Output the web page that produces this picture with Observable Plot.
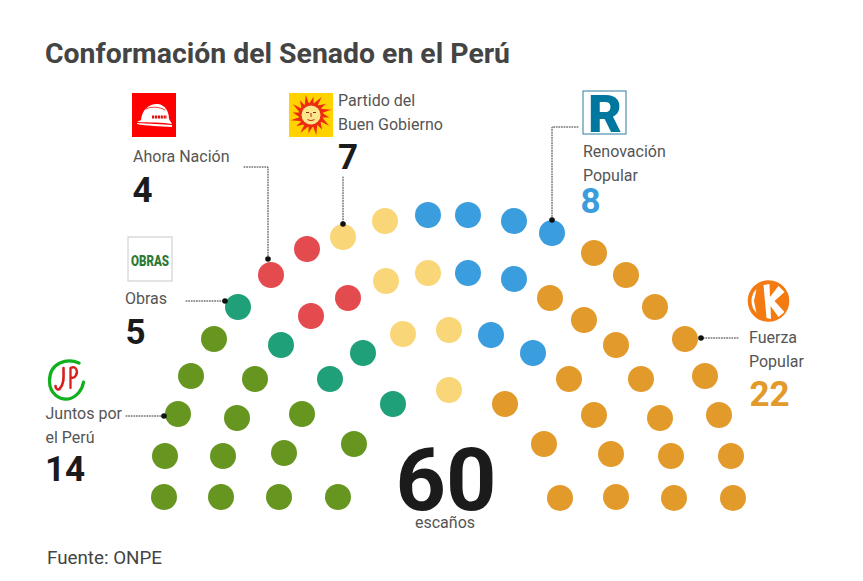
<!DOCTYPE html>
<html lang="es">
<head>
<meta charset="utf-8">
<script src="https://cdn.jsdelivr.net/npm/d3@7"></script>
<script src="https://cdn.jsdelivr.net/npm/@observablehq/plot@0.6"></script>
<style>
html,body{margin:0;padding:0;background:#fff;width:863px;overflow:hidden}
#title{height:80px;box-sizing:border-box;padding:38px 0 0 45px;font:700 28.4px/32px Roboto,sans-serif;color:#444;white-space:nowrap}
#chart svg{display:block}
#source{padding:2px 0 0 47px;font:400 18.8px/22px Roboto,sans-serif;color:#444}
</style>
</head>
<body>
<div id="title">Conformación del Senado en el Perú</div>
<div id="chart"></div>
<div id="source">Fuente: ONPE</div>
<script>
// ---- data ----
const parties = ["Juntos por el Perú", "Obras", "Ahora Nación", "Partido del Buen Gobierno", "Renovación Popular", "Fuerza Popular"];
const seatCounts = [14, 5, 4, 7, 8, 22];
const totalSeats = 60;
const seatUnit = "escaños";
const partyColors = ["#66961f", "#1fa078", "#e34b4e", "#f9d678", "#3a9ddd", "#e29a2b"];

// seat centres, one list per party
const juntosSeats = [[164,497],[221,497],[279,497],[338,497],[165,456],[223,456],[284,453],[354,444],[178,414],[237,418],[302,414],[191,376],[255,379],[214,339]];
const obrasSeats = [[238,307],[281,345],[363,353],[330,379],[393,404]];
const ahoraSeats = [[271,275],[307,249],[348,298],[311,316]];
const buenGobiernoSeats = [[343,237],[385,221],[386,281],[428,273],[403,334],[449,330],[449,390]];
const renovacionSeats = [[428,215],[468,215],[514,221],[552,233],[468,273],[514,279],[491,335],[533,353]];
const fuerzaSeats = [[594,253],[626,275],[655,307],[685,339],[705,376],[719,415],[731,456],[733,498],[550,298],[584,320],[616,345],[641,379],[660,418],[671,456],[674,498],[569,379],[594,415],[611,454],[616,497],[505,404],[544,444],[560,498]];

// ---- layout (annotations, not data) ----
const W = 863, TOP = 80, H = 465;
const seatLists = [juntosSeats, obrasSeats, ahoraSeats, buenGobiernoSeats, renovacionSeats, fuerzaSeats];
const seats = seatLists.flatMap((list, i) => list.map(([x, y]) => ({x, y, party: parties[i]})));

const labelLines = [
  {x:133,y:161.5,t:"Ahora Nación"},
  {x:338,y:105.5,t:"Partido del"},{x:338,y:129.5,t:"Buen Gobierno"},
  {x:583,y:156.5,t:"Renovación"},{x:583,y:180.5,t:"Popular"},
  {x:125,y:303.5,t:"Obras"},
  {x:45.5,y:418.5,t:"Juntos por"},{x:45.5,y:442.5,t:"el Perú"},
  {x:749,y:342.5,t:"Fuerza"},{x:749,y:366.5,t:"Popular"}
];
const numberLabels = [
  {x:45,y:480.5,i:0,c:"#1b1b1b"},
  {x:125.5,y:343.5,i:1,c:"#1b1b1b"},
  {x:132.5,y:201.5,i:2,c:"#1b1b1b"},
  {x:338,y:168.5,i:3,c:"#1b1b1b"},
  {x:580.5,y:212.5,i:4,c:"#3a9ddd"},
  {x:749.5,y:405.5,i:5,c:"#e29a2b"}
];
const leaders = [
  [[244,167],[268,167],[268,259]],
  [[343,177],[343,224]],
  [[578,127],[552,127],[552,220]],
  [[186,301],[225,301]],
  [[126,416],[164,416]],
  [[738,338],[701,338]]
];
const leaderPts = leaders.flatMap((pts, k) => pts.map(([x, y]) => ({x, y, k})));
const leaderEnds = [[268,259],[343,224],[552,220],[225,301],[164,416],[701,338]].map(([x, y]) => ({x, y}));

// ---- logos ----
const svgUri = s => "data:image/svg+xml;utf8," + encodeURIComponent(`<svg xmlns="http://www.w3.org/2000/svg" viewBox="0 0 44 44">${s}</svg>`);
const rays = d3.range(16).map(i => {
  const a = i / 16 * 2 * Math.PI, w = 0.22, R = i % 2 ? 21 : 18.5, r = 11;
  return `<polygon points="${22 + r * Math.cos(a - w)},${22 + r * Math.sin(a - w)} ${22 + R * Math.cos(a + 0.14)},${22 + R * Math.sin(a + 0.14)} ${22 + r * Math.cos(a + w)},${22 + r * Math.sin(a + w)}"/>`;
}).join("");
const logoHelmet = svgUri(`<rect width="44" height="44" fill="#fe0000"/>
<path d="M9 27 C10 15 19 10 26 11 C33 12 37 18 37 26 L40 31 C30 29 18 30 5 29 Z" fill="#fff"/>
<path d="M5 30 C16 31 30 31 40 32 L40 34 C28 33 14 33 5 31 Z" fill="#fff"/>
<path d="M14 16 C20 13 28 14 33 17" stroke="#fe0000" stroke-width="0.8" fill="none"/>
<path d="M20 24 L35 24" stroke="#e01010" stroke-width="3" stroke-dasharray="2.2 0.7"/>`);
const logoSun = svgUri(`<rect width="44" height="44" fill="#ffd200"/>
<g fill="#ee2a10">${rays}</g>
<circle cx="22" cy="22" r="12" fill="#ee2a10"/>
<circle cx="22" cy="22" r="9.5" fill="#fbe68c"/>
<path d="M17 19.5h3M24 19.5h3" stroke="#8c2a10" stroke-width="1.2"/>
<path d="M22 20v4M18.5 26.5 q3.5 2 7 0" stroke="#c8341a" stroke-width="1.1" fill="none"/>`);
const logoJP = svgUri(`<path d="M36.5 5 C25 0 7 4 7 23 C7 36 17 42 26 41 C34 39 40 32 41 24" fill="none" stroke="#10b01e" stroke-width="3.2" stroke-linecap="round"/>
<path d="M21 10 C21 18 22 26 17 31 C15 32 13 31 13 28" fill="none" stroke="#d81e1e" stroke-width="2.6" stroke-linecap="round"/>
<path d="M28 30 L28 10 C34 7 36 14 33 18 C32 20 30 20 28 20" fill="none" stroke="#d81e1e" stroke-width="2.3" stroke-linecap="round"/>`);
const logoK = svgUri(`<circle cx="22" cy="22" r="20" fill="#f47a12" stroke="#f47a12" stroke-width="1.6"/>
<path d="M5 22 A 17 17 0 0 1 10 10 L7.5 22 L10 34 A 17 17 0 0 1 5 22 Z" fill="#fff"/>
<path d="M17 6 L23 5 L23.5 18 L32 7 L38 13 L28 22 L38 33 L32 38 L24 27 L24.5 40 L20 39 Z" fill="#fff"/>`);
const logos = [
  {x:154,y:115,s:44,src:logoHelmet},
  {x:311,y:115,s:44,src:logoSun},
  {x:64.5,y:380,s:44,src:logoJP},
  {x:768.5,y:301,s:44,src:logoK}
];
const logoBoxes = [
  {x1:128.5,x2:172.5,y1:237.5,y2:281.5,c:"#c8c8c8"},
  {x1:583.5,x2:626.5,y1:91.5,y2:134.5,c:"#2a7f9f"}
];

// ---- chart ----
const font = "Roboto, sans-serif";
const chart = Plot.plot({
  width: W, height: H, margin: 0,
  x: {domain: [0, W], range: [-0.5, W - 0.5], axis: null},
  y: {domain: [TOP, TOP + H], range: [-0.5, H - 0.5], axis: null},
  color: {domain: parties, range: partyColors},
  style: {background: "#fff", overflow: "visible"},
  marks: [
    Plot.rect(logoBoxes, {x1: "x1", x2: "x2", y1: "y1", y2: "y2", fill: "#fff", stroke: "c", strokeWidth: 1}),
    Plot.text(["OBRAS"], {x: 150, y: 266, text: d => d, fontFamily: font, fontWeight: 900, fontSize: 14, fill: "#2d7a35", lineAnchor: "bottom", textAnchor: "middle"}),
    Plot.text(["R"], {x: 605, y: 132, text: d => d, fontFamily: font, fontWeight: 900, fontSize: 52, fill: "#00779f", lineAnchor: "bottom", textAnchor: "middle"}),
    Plot.image(logos, {x: "x", y: "y", src: "src", width: "s", height: "s"}),
    Plot.dot(seats, {x: "x", y: "y", r: 13, fill: "party"}),
    Plot.line(leaderPts, {x: "x", y: "y", z: "k", stroke: "#333", strokeWidth: 1, strokeDasharray: "1,1.6", curve: "linear"}),
    Plot.dot(leaderEnds, {x: "x", y: "y", r: 2.8, fill: "#111"}),
    Plot.text(labelLines, {x: "x", y: "y", text: "t", fontFamily: font, fontSize: 16, fill: "#555", textAnchor: "start", lineAnchor: "bottom"}),
    Plot.text(numberLabels, {x: "x", y: "y", text: d => String(seatCounts[d.i]), fill: "c", fontFamily: font, fontWeight: 700, fontSize: 35, textAnchor: "start", lineAnchor: "bottom"}),
    Plot.text([totalSeats], {x: 446, y: 510, text: d => String(d), fontFamily: font, fontWeight: 700, fontSize: 88, fill: "#1b1b1b", textAnchor: "middle", lineAnchor: "bottom"}),
    Plot.text([seatUnit], {x: 445, y: 528, text: d => d, fontFamily: font, fontSize: 16, fill: "#555", textAnchor: "middle", lineAnchor: "bottom"})
  ]
});
document.getElementById("chart").append(chart);
// the logo's condensed wordmark: fit the text to the logo's width
d3.select(chart).selectAll("text").filter(function () { return this.textContent === "OBRAS"; })
  .attr("textLength", 38).attr("lengthAdjust", "spacingAndGlyphs");
</script>
</body>
</html>
